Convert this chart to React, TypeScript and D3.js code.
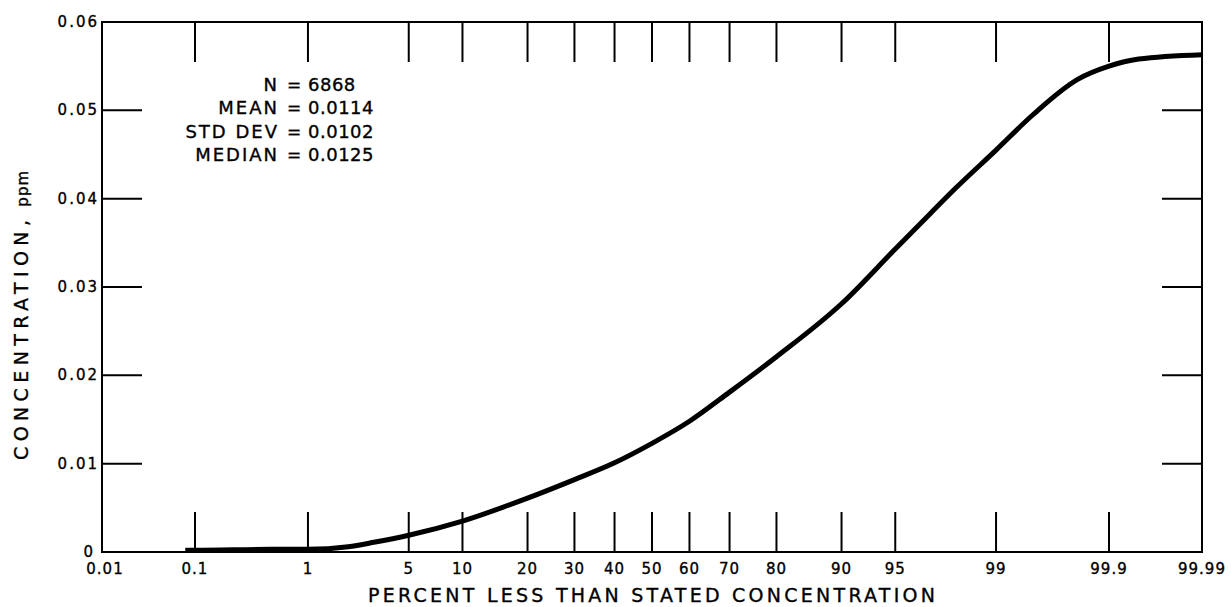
import React from "react";
import * as d3 from "d3";

const percents = [0.08, 0.1, 0.5, 1, 2, 3, 5, 10, 20, 30, 40, 50, 60, 70, 80, 90, 95, 97, 98, 99, 99.5, 99.8, 99.9, 99.95, 99.99];
const concentrations = [0.0002, 0.0002, 0.0003, 0.0003, 0.0006, 0.0011, 0.0019, 0.0035, 0.0061, 0.0082, 0.0101, 0.0123, 0.0148, 0.0181, 0.0221, 0.0281, 0.0343, 0.0383, 0.0412, 0.0455, 0.0495, 0.0535, 0.055, 0.0558, 0.0563];

const xTickValues = [0.01, 0.1, 1, 5, 10, 20, 30, 40, 50, 60, 70, 80, 90, 95, 99, 99.9, 99.99];
const xTickLabels = ["0.01", "0.1", "1", "5", "10", "20", "30", "40", "50", "60", "70", "80", "90", "95", "99", "99.9", "99.99"];
const xMarkValues = [0.1, 1, 5, 10, 20, 30, 40, 50, 60, 70, 80, 90, 95, 99, 99.9];
const yTickValues = [0, 0.01, 0.02, 0.03, 0.04, 0.05, 0.06];
const yTickLabels = ["0", "0.01", "0.02", "0.03", "0.04", "0.05", "0.06"];
const yMarkValues = [0.01, 0.02, 0.03, 0.04, 0.05];

const statNames = ["N", "MEAN", "STD DEV", "MEDIAN"];
const statValues = ["6868", "0.0114", "0.0102", "0.0125"];

const xTitle = "PERCENT LESS THAN STATED CONCENTRATION";
const yTitle = "CONCENTRATION,";
const yUnit = "ppm";

function probit(p: number): number {
  const a = [-3.969683028665376e1, 2.209460984245205e2, -2.759285104469687e2, 1.38357751867269e2, -3.066479806614716e1, 2.506628277459239];
  const b = [-5.447609879822406e1, 1.615858368580409e2, -1.556989798598866e2, 6.680131188771972e1, -1.328068155288572e1];
  const c = [-7.784894002430293e-3, -3.223964580411365e-1, -2.400758277161838, -2.549732539343734, 4.374664141464968, 2.938163982698783];
  const d = [7.784695709041462e-3, 3.224671290700398e-1, 2.445134137142996, 3.754408661907416];
  const plow = 0.02425;
  const phigh = 1 - plow;
  if (p < plow) {
    const q = Math.sqrt(-2 * Math.log(p));
    return (((((c[0] * q + c[1]) * q + c[2]) * q + c[3]) * q + c[4]) * q + c[5]) / ((((d[0] * q + d[1]) * q + d[2]) * q + d[3]) * q + 1);
  }
  if (p <= phigh) {
    const q = p - 0.5;
    const r = q * q;
    return ((((((a[0] * r + a[1]) * r + a[2]) * r + a[3]) * r + a[4]) * r + a[5]) * q) / (((((b[0] * r + b[1]) * r + b[2]) * r + b[3]) * r + b[4]) * r + 1);
  }
  const q = Math.sqrt(-2 * Math.log(1 - p));
  return -(((((c[0] * q + c[1]) * q + c[2]) * q + c[3]) * q + c[4]) * q + c[5]) / ((((d[0] * q + d[1]) * q + d[2]) * q + d[3]) * q + 1);
}

const W = 1231;
const H = 607;
const L = 102, R = 1202, T = 22, B = 552;
const TICK = 40;
const FONT = "'DejaVu Sans', sans-serif";
const TXT = { fill: "#000", stroke: "#000", strokeWidth: 0.35 };

export default function App() {
  const xs = d3.scaleLinear().domain([probit(0.0001), probit(0.9999)]).range([L, R]);
  const x = (pct: number) => xs(probit(pct / 100));
  const y = d3.scaleLinear().domain([0, 0.06]).range([B, T]);

  const pts: [number, number][] = percents.map((p, i) => [x(p), y(concentrations[i])]);
  const line = d3.line<[number, number]>().x((d) => d[0]).y((d) => d[1]).curve(d3.curveMonotoneX);

  return (
    <svg width={W} height={H} style={{ position: "absolute", left: 0, top: 0, background: "#fff" }} fontFamily={FONT}>
      <rect x={0} y={0} width={W} height={H} fill="#fff" />
      {/* frame */}
      <rect x={L} y={T} width={R - L} height={B - T} fill="none" stroke="#000" strokeWidth={2} />
      {/* top & bottom tick marks */}
      {xMarkValues.map((v) => (
        <g key={"xm" + v}>
          <line x1={x(v)} x2={x(v)} y1={T} y2={T + TICK} stroke="#000" strokeWidth={2} />
          <line x1={x(v)} x2={x(v)} y1={B} y2={B - TICK} stroke="#000" strokeWidth={2} />
        </g>
      ))}
      {/* left & right tick marks */}
      {yMarkValues.map((v) => (
        <g key={"ym" + v}>
          <line x1={L} x2={L + TICK} y1={y(v)} y2={y(v)} stroke="#000" strokeWidth={2} />
          <line x1={R} x2={R - TICK} y1={y(v)} y2={y(v)} stroke="#000" strokeWidth={2} />
        </g>
      ))}
      {/* x tick labels */}
      {xTickValues.map((v, i) => (
        <text key={"xl" + v} x={x(v) + (i === 0 ? 3 : 0)} y={574} fontSize={15} letterSpacing={1} textAnchor="middle" {...TXT}>
          {xTickLabels[i]}
        </text>
      ))}
      {/* y tick labels */}
      {yTickValues.map((v, i) => (
        <text key={"yl" + v} x={i === 0 ? 95 : 99} y={y(v) + 5} fontSize={15} letterSpacing={2} textAnchor="end" {...TXT}>
          {yTickLabels[i]}
        </text>
      ))}
      {/* x title */}
      <text x={368} y={602} fontSize={19} textLength={567} lengthAdjust="spacing" {...TXT}>
        {xTitle}
      </text>
      {/* y title */}
      <text transform="translate(28,460) rotate(-90)" fontSize={19} {...TXT}>
        <tspan textLength={240} lengthAdjust="spacing">{yTitle}</tspan>
        <tspan dx={8} fontSize={15} letterSpacing={1}>{yUnit}</tspan>
      </text>
      {/* stats */}
      {statNames.map((n, i) => (
        <g key={"st" + n}>
          <text x={279} y={91 + i * 23.3} fontSize={18} letterSpacing={2} textAnchor="end" {...TXT}>{n}</text>
          <text x={287} y={91 + i * 23.3} fontSize={17} {...TXT}>=</text>
          <text x={308} y={91 + i * 23.3} fontSize={18} letterSpacing={0.5} {...TXT}>{statValues[i]}</text>
        </g>
      ))}
      {/* curve */}
      <path d={line(pts) ?? ""} fill="none" stroke="#000" strokeWidth={5} strokeLinejoin="round" strokeLinecap="butt" />
    </svg>
  );
}
